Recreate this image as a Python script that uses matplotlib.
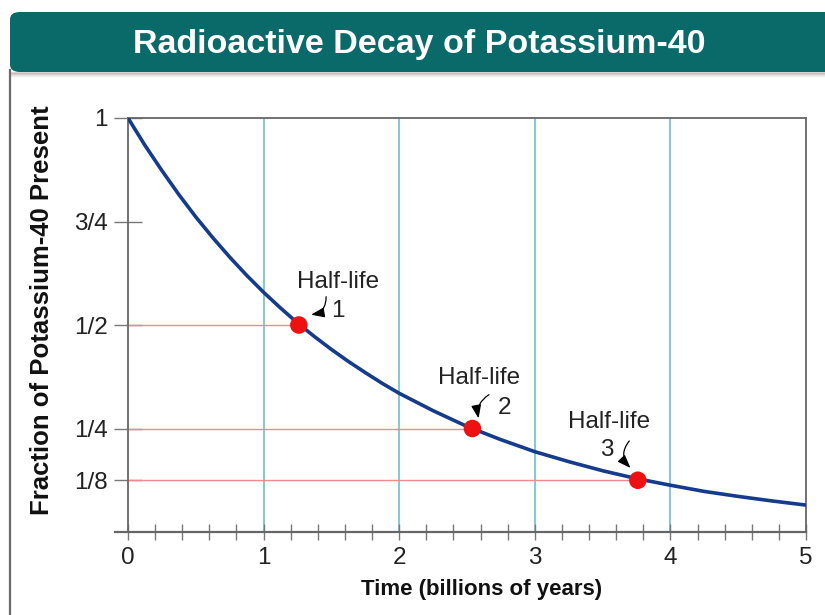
import matplotlib
matplotlib.use("Agg")
import matplotlib.pyplot as plt
from matplotlib.patches import FancyBboxPatch
from matplotlib.lines import Line2D
from matplotlib.ticker import MultipleLocator

plt.rcParams['font.family'] = ['Liberation Sans', 'DejaVu Sans']

# ---- data ----
time_bya = [0, 0.125, 0.25, 0.375, 0.5, 0.625, 0.75, 0.875, 1.0, 1.125, 1.25, 1.375,
            1.5, 1.625, 1.75, 1.875, 2.0, 2.25, 2.5, 2.75, 3.0, 3.25, 3.5, 3.75,
            4.0, 4.25, 4.5, 4.75, 5.0]
fraction = [1.0, 0.934, 0.873, 0.815, 0.761, 0.711, 0.664, 0.620, 0.579, 0.541, 0.505, 0.472,
            0.441, 0.412, 0.385, 0.359, 0.335, 0.293, 0.255, 0.223, 0.194, 0.170, 0.148, 0.129,
            0.113, 0.098, 0.086, 0.075, 0.065]
halflife_t = [1.26, 2.54, 3.76]
halflife_f = [1/2, 1/4, 1/8]
halflife_labels = ["1", "2", "3"]
ytick_vals = [1/8, 1/4, 1/2, 3/4, 1]
ytick_labels = ["1/8", "1/4", "1/2", "3/4", "1"]
xtick_vals = [0, 1, 2, 3, 4, 5]
title = "Radioactive Decay of Potassium-40"
xlabel = "Time (billions of years)"
ylabel = "Fraction of Potassium-40 Present"

W, H = 825, 615
fig = plt.figure(figsize=(W/100, H/100), dpi=100)
fig.patch.set_facecolor('white')

def fx(px): return px / W
def fy(py): return 1 - py / H

# panel border
fig.add_artist(Line2D([fx(10), fx(10)], [fy(70), fy(620)], color='#6a6a6a', lw=1.6))
# banner shadow
for i, a in enumerate([0.35, 0.25, 0.16, 0.09, 0.04]):
    fig.add_artist(Line2D([fx(12), fx(830)], [fy(73 + i), fy(73 + i)], color='#7a6a6c', alpha=a, lw=1.2))
# banner
banner = FancyBboxPatch((fx(10), fy(72)), fx(840) - fx(10), fy(12) - fy(72),
                        boxstyle="round,pad=0,rounding_size=0.012",
                        transform=fig.transFigure, facecolor='#0a6a6a', edgecolor='none')
fig.add_artist(banner)
fig.text(fx(419), fy(44), title, color='white', fontsize=24.5, fontweight='bold',
         ha='center', va='center')

ax = fig.add_axes([fx(128), fy(532), fx(806) - fx(128), fy(118) - fy(532)])
ax.set_xlim(0, 5)
ax.set_ylim(0, 1)

# vertical grid lines
for xv in [1, 2, 3, 4]:
    ax.axvline(xv, color='#6cc0cc', lw=1.2, zorder=1)
# horizontal guide lines to half-life points
for t, f in zip(halflife_t, halflife_f):
    ax.plot([0, t], [f, f], color='#f08a8a', lw=1.0, zorder=2)

ax.plot(time_bya, fraction, color='#143b8c', lw=2.6, zorder=3,
        solid_capstyle='round', solid_joinstyle='round')
ax.scatter(halflife_t, halflife_f, s=160, color='#ee1111', zorder=4, edgecolors='none')

for s in ['left', 'top', 'right']:
    ax.spines[s].set_color('#666666')
    ax.spines[s].set_linewidth(1.3)
ax.spines['bottom'].set_visible(False)
ax.add_line(Line2D([-0.019, 1.0], [0, 0], transform=ax.transAxes, color='#666666',
                   lw=1.6, clip_on=False))

ax.set_yticks(ytick_vals)
ax.set_yticklabels(ytick_labels, fontsize=17.5, color='#222222')
ax.tick_params(axis='y', direction='inout', length=19.5, width=1, color='#777777', pad=5)
ax.set_xticks(xtick_vals)
ax.set_xticklabels([str(v) for v in xtick_vals], fontsize=17.5, color='#222222')
ax.xaxis.set_minor_locator(MultipleLocator(0.2))
ax.tick_params(axis='x', which='both', direction='inout', length=12, width=1,
               color='#777777', pad=5)

fig.text(fx(482), fy(590), xlabel, fontsize=16, fontweight='bold', color='#111111',
         ha='center', va='center')
fig.text(fx(42), fy(310), ylabel, fontsize=18.5, fontweight='bold', color='#111111',
         ha='center', va='center', rotation=90)

# annotations
txt_kw = dict(fontsize=17.5, color='#222222', ha='center', va='center', zorder=5)
ax.text(1.55, 0.605, "Half-life", **txt_kw)
ax.text(1.55, 0.535, halflife_labels[0], **txt_kw)
ax.text(2.59, 0.372, "Half-life", **txt_kw)
ax.text(2.78, 0.300, halflife_labels[1], **txt_kw)
ax.text(3.55, 0.266, "Half-life", **txt_kw)
ax.text(3.53, 0.198, halflife_labels[2], **txt_kw)

arrow_kw = dict(arrowstyle='-|>,head_length=0.8,head_width=0.3', color='black', lw=0.9)
ax.annotate("", xy=(1.33, 0.524), xytext=(1.46, 0.575),
            arrowprops=dict(connectionstyle="arc3,rad=-0.5", **arrow_kw))
ax.annotate("", xy=(2.59, 0.268), xytext=(2.68, 0.335),
            arrowprops=dict(connectionstyle="arc3,rad=0.4", **arrow_kw))
ax.annotate("", xy=(3.72, 0.150), xytext=(3.71, 0.225),
            arrowprops=dict(connectionstyle="arc3,rad=0.5", **arrow_kw))

fig.savefig("out.png", dpi=100)
